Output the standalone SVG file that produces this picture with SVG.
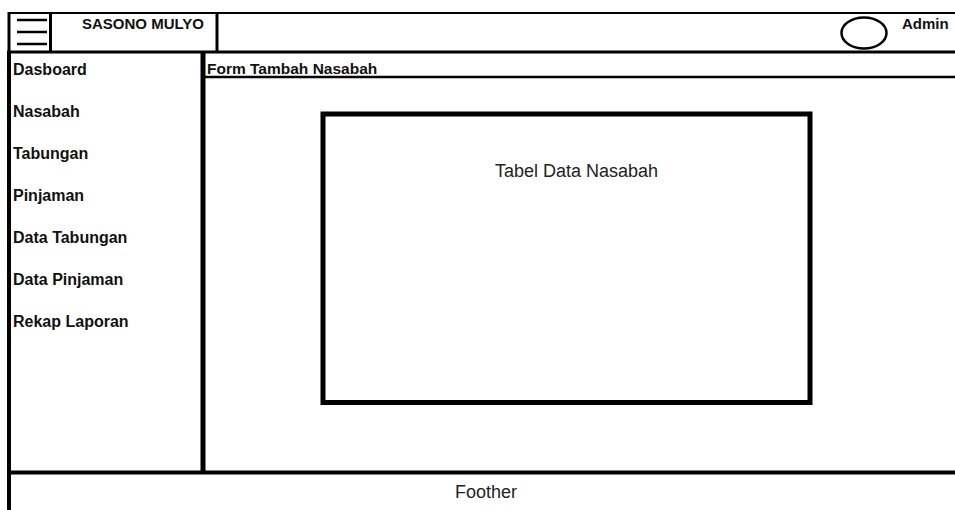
<svg xmlns="http://www.w3.org/2000/svg" width="955" height="510" viewBox="0 0 955 510">
  <style>
    .ln { stroke: #000; fill: none; }
    .menu { font-family: "Liberation Sans", Arial, sans-serif; font-weight: bold; font-size: 16px; fill: #111; }
    .head { font-family: "Liberation Sans", Arial, sans-serif; font-weight: bold; font-size: 15px; fill: #111; }
    .body { font-family: "Liberation Sans", Arial, sans-serif; font-size: 18px; fill: #222; }
  </style>
  <rect width="955" height="510" fill="#fff"/>

  <!-- header bar -->
  <g id="header">
    <line class="ln" x1="8" y1="13" x2="955" y2="13" stroke-width="2"/>
    <line class="ln" x1="7" y1="52" x2="955" y2="52" stroke-width="3"/>
    <line class="ln" x1="9" y1="12" x2="9" y2="52" stroke-width="3"/>
    <line class="ln" x1="50.5" y1="12" x2="50.5" y2="52" stroke-width="3"/>
    <line class="ln" x1="217" y1="12" x2="217" y2="52" stroke-width="3"/>
  </g>

  <g id="menu-toggle">
    <line class="ln" x1="17" y1="20" x2="47" y2="20" stroke-width="2.5"/>
    <line class="ln" x1="17" y1="32" x2="47" y2="32" stroke-width="2.5"/>
    <line class="ln" x1="17" y1="44" x2="47" y2="44" stroke-width="2.5"/>
  </g>

  <g id="brand">
    <text class="head" x="82" y="29">SASONO MULYO</text>
  </g>

  <g id="user">
    <ellipse class="ln" cx="864" cy="33" rx="22.5" ry="15.5" stroke-width="2.5"/>
    <text class="head" x="902" y="29">Admin</text>
  </g>

  <!-- sidebar -->
  <g id="sidebar">
    <line class="ln" x1="9" y1="51" x2="9" y2="510" stroke-width="4"/>
    <line class="ln" x1="203" y1="51" x2="203" y2="472" stroke-width="5"/>
    <text class="menu" x="13" y="75">Dasboard</text>
    <text class="menu" x="13" y="117">Nasabah</text>
    <text class="menu" x="13" y="159">Tabungan</text>
    <text class="menu" x="13" y="201">Pinjaman</text>
    <text class="menu" x="13" y="243">Data Tabungan</text>
    <text class="menu" x="13" y="285">Data Pinjaman</text>
    <text class="menu" x="13" y="327">Rekap Laporan</text>
  </g>

  <!-- content area -->
  <g id="content">
    <text class="head" x="207" y="73.5" style="font-size:15.5px">Form Tambah Nasabah</text>
    <line class="ln" x1="205" y1="77" x2="955" y2="77" stroke-width="2.5"/>
  </g>

  <g id="data-table">
    <rect class="ln" x="323" y="114" width="487" height="288.5" stroke-width="5"/>
    <text class="body" x="495" y="177">Tabel Data Nasabah</text>
  </g>

  <!-- footer -->
  <g id="footer">
    <line class="ln" x1="7" y1="472.5" x2="955" y2="472.5" stroke-width="4"/>
    <text class="body" x="455" y="498">Foother</text>
  </g>
</svg>
